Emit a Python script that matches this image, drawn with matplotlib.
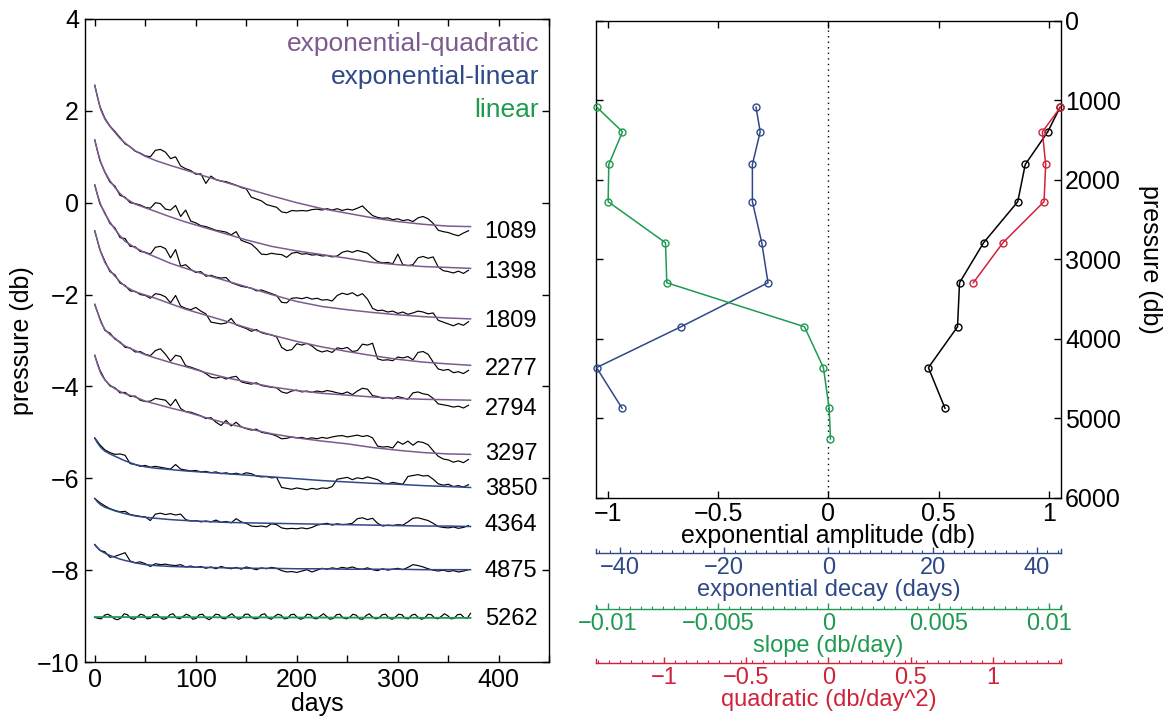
import numpy as np
import matplotlib.pyplot as plt
from matplotlib.ticker import MultipleLocator

plt.rcParams['font.family'] = ['Liberation Sans', 'DejaVu Sans']

# ---------------- left panel data ----------------
depth_labels = ['1089', '1398', '1809', '2277', '2794', '3297', '3850', '4364', '4875', '5262']
label_y = [-0.59, -1.45, -2.52, -3.57, -4.43, -5.42, -6.18, -6.97, -7.96, -9.02]

# black records, one value every 5 days from day 0
rec_1089 = [2.55, 2.10, 1.84, 1.67, 1.55, 1.42, 1.28, 1.22, 1.12, 1.08,
            1.02, 1.00, 1.14, 1.16, 1.10, 0.96, 1.00, 0.80, 0.74, 0.70,
            0.62, 0.63, 0.42, 0.58, 0.50, 0.47, 0.46, 0.42, 0.38, 0.33,
            0.30, 0.12, 0.08, 0.04, -0.04, -0.07, -0.10, -0.20, -0.22, -0.17,
            -0.18, -0.17, -0.18, -0.15, -0.14, -0.16, -0.13, -0.16, -0.13, -0.17,
            -0.14, -0.16, -0.12, -0.07, -0.18, -0.28, -0.32, -0.34, -0.33, -0.37,
            -0.35, -0.39, -0.37, -0.41, -0.33, -0.30, -0.35, -0.45, -0.60, -0.63,
            -0.65, -0.69, -0.72, -0.66, -0.61]
rec_1398 = [1.36, 0.92, 0.66, 0.45, 0.36, 0.16, 0.12, 0.00, -0.02, -0.05,
            -0.10, -0.12, 0.00, -0.02, -0.14, -0.16, -0.06, -0.30, -0.16, -0.40,
            -0.44, -0.50, -0.52, -0.56, -0.60, -0.62, -0.64, -0.70, -0.63, -0.82,
            -0.86, -0.90, -1.00, -1.12, -1.13, -1.10, -1.12, -1.13, -1.19, -1.10,
            -1.08, -1.12, -1.11, -1.14, -1.13, -1.16, -1.15, -1.18, -1.16, -1.08,
            -1.05, -1.08, -1.04, -1.07, -1.10, -1.20, -1.28, -1.31, -1.30, -1.33,
            -1.12, -1.35, -1.37, -1.35, -1.20, -1.17, -1.21, -1.18, -1.40, -1.48,
            -1.50, -1.53, -1.49, -1.54, -1.47]
rec_1809 = [0.38, -0.02, -0.22, -0.45, -0.55, -0.76, -0.78, -0.95, -0.96, -1.06,
            -1.08, -1.12, -0.97, -0.95, -1.00, -1.20, -1.02, -1.38, -1.35, -1.45,
            -1.52, -1.50, -1.60, -1.58, -1.62, -1.64, -1.63, -1.74, -1.78, -1.82,
            -1.84, -1.86, -1.92, -1.90, -1.94, -1.98, -2.02, -2.17, -2.18, -2.08,
            -2.07, -2.09, -2.06, -2.10, -2.08, -2.12, -2.11, -2.14, -2.02, -1.97,
            -2.00, -1.96, -2.03, -1.98, -2.10, -2.30, -2.35, -2.34, -2.38, -2.36,
            -2.41, -2.38, -2.43, -2.40, -2.36, -2.38, -2.42, -2.40, -2.56, -2.60,
            -2.64, -2.68, -2.63, -2.67, -2.59]
rec_2277 = [-0.62, -1.02, -1.27, -1.50, -1.57, -1.75, -1.80, -1.92, -1.93, -2.00,
            -2.02, -2.08, -1.98, -2.00, -2.05, -2.18, -2.02, -2.25, -2.30, -2.33,
            -2.28, -2.36, -2.42, -2.60, -2.62, -2.64, -2.62, -2.52, -2.66, -2.70,
            -2.74, -2.80, -2.76, -2.83, -2.86, -2.88, -2.92, -3.15, -3.22, -3.20,
            -3.07, -3.10, -3.06, -3.12, -3.21, -3.25, -3.22, -3.26, -3.16, -3.18,
            -3.15, -3.24, -3.22, -3.08, -3.10, -3.06, -3.40, -3.43, -3.42, -3.44,
            -3.36, -3.38, -3.35, -3.42, -3.26, -3.24, -3.30, -3.47, -3.62, -3.65,
            -3.63, -3.70, -3.68, -3.72, -3.65]
rec_2794 = [-2.22, -2.52, -2.78, -2.84, -2.97, -3.03, -3.15, -3.16, -3.25, -3.24,
            -3.30, -3.33, -3.22, -3.18, -3.30, -3.45, -3.32, -3.35, -3.55, -3.58,
            -3.62, -3.66, -3.72, -3.80, -3.82, -3.79, -3.84, -3.80, -3.78, -3.90,
            -3.93, -3.95, -3.92, -3.98, -4.00, -4.02, -4.03, -4.12, -4.15, -4.10,
            -4.08, -4.12, -4.10, -4.13, -4.10, -4.12, -4.09, -4.11, -4.14, -4.16,
            -4.12, -4.18, -4.10, -4.04, -4.06, -4.20, -4.22, -4.26, -4.24, -4.27,
            -4.22, -4.25, -4.28, -4.14, -4.12, -4.16, -4.18, -4.26, -4.38, -4.40,
            -4.42, -4.45, -4.43, -4.47, -4.41]
rec_3297 = [-3.33, -3.64, -3.85, -3.99, -4.03, -4.14, -4.13, -4.22, -4.21, -4.30,
            -4.33, -4.32, -4.26, -4.28, -4.30, -4.42, -4.28, -4.48, -4.55, -4.56,
            -4.60, -4.64, -4.70, -4.68, -4.78, -4.85, -4.74, -4.86, -4.78, -4.88,
            -4.92, -4.95, -4.93, -5.00, -5.02, -5.04, -5.08, -5.14, -5.13, -5.10,
            -5.12, -5.11, -5.14, -5.12, -5.14, -5.11, -5.13, -5.10, -5.08, -5.07,
            -5.10, -5.08, -5.06, -5.09, -5.07, -5.12, -5.30, -5.32, -5.31, -5.34,
            -5.20, -5.26, -5.19, -5.28, -5.20, -5.22, -5.27, -5.40, -5.52, -5.58,
            -5.60, -5.65, -5.62, -5.66, -5.59]
rec_3850 = [-5.12, -5.27, -5.38, -5.44, -5.48, -5.47, -5.50, -5.68, -5.70, -5.74,
            -5.72, -5.76, -5.74, -5.76, -5.78, -5.80, -5.70, -5.80, -5.82, -5.84,
            -5.83, -5.86, -5.85, -5.88, -5.86, -5.90, -5.88, -5.91, -5.89, -5.92,
            -5.88, -5.90, -5.95, -5.97, -5.96, -5.99, -5.98, -6.20, -6.22, -6.24,
            -6.21, -6.23, -6.25, -6.22, -6.24, -6.21, -6.22, -6.18, -6.02, -6.00,
            -5.98, -6.03, -5.99, -6.01, -5.97, -6.00, -6.03, -6.10, -6.12, -6.09,
            -6.11, -6.13, -5.96, -5.94, -5.92, -5.95, -5.94, -6.02, -6.12, -6.15,
            -6.13, -6.18, -6.16, -6.19, -6.14]
rec_4364 = [-6.44, -6.53, -6.60, -6.66, -6.70, -6.73, -6.72, -6.79, -6.81, -6.83,
            -6.84, -6.92, -6.78, -6.76, -6.79, -6.77, -6.80, -6.78, -6.90, -6.93,
            -6.92, -6.95, -6.93, -6.95, -6.91, -6.96, -6.94, -6.97, -6.88, -6.95,
            -6.98, -7.04, -7.05, -7.04, -7.06, -6.99, -7.01, -7.08, -7.10, -7.09,
            -7.10, -7.08, -7.10, -7.07, -7.02, -7.00, -6.98, -7.02, -6.99, -7.01,
            -7.00, -6.98, -6.88, -6.86, -6.90, -6.87, -6.98, -7.04, -7.02, -7.03,
            -7.01, -7.02, -6.95, -6.87, -6.86, -6.89, -6.92, -6.98, -7.05, -7.07,
            -7.08, -7.06, -7.09, -7.07, -7.03]
rec_4875 = [-7.44, -7.57, -7.60, -7.72, -7.70, -7.66, -7.62, -7.80, -7.84, -7.82,
            -7.86, -7.92, -7.86, -7.88, -7.87, -7.89, -7.90, -7.88, -7.93, -7.91,
            -7.94, -7.92, -7.96, -7.93, -7.97, -7.92, -7.95, -7.97, -7.94, -7.98,
            -7.93, -7.96, -7.99, -7.95, -7.97, -7.94, -7.96, -8.01, -8.04, -8.03,
            -8.05, -8.02, -7.99, -8.04, -8.00, -7.96, -7.98, -7.95, -7.97, -7.94,
            -7.96, -7.93, -7.97, -7.98, -7.95, -7.99, -8.01, -7.97, -8.00, -7.98,
            -7.96, -7.99, -7.94, -7.88, -7.90, -7.93, -7.97, -8.00, -8.02, -8.00,
            -8.03, -8.01, -8.04, -8.02, -7.99]
# deepest record is sampled finer (fortnightly steps)
rec_5262 = [-9.03, -9.05, -9.06, -8.98, -8.96, -9.00, -9.06, -9.08, -9.04, -8.95,
            -8.97, -9.05, -9.07, -9.02, -8.96, -8.98, -9.06, -9.05, -8.97, -8.96,
            -9.03, -9.07, -9.05, -8.97, -8.95, -9.04, -9.06, -9.01, -8.96, -8.99,
            -9.07, -9.05, -8.97, -8.96, -9.04, -9.08, -9.03, -8.96, -8.97, -9.05,
            -9.06, -8.99, -8.95, -9.02, -9.07, -9.04, -8.96, -8.96, -9.03, -9.06,
            -9.05, -8.97, -8.95, -9.04, -9.07, -9.01, -8.96, -8.98, -9.06, -9.05,
            -8.97, -8.96, -9.03, -9.07, -9.04, -8.96, -8.97, -9.05, -9.06, -9.00,
            -8.95, -9.01, -9.07, -9.05, -8.97, -8.96, -9.04, -9.06, -9.03, -8.96,
            -8.98, -9.06, -9.07, -8.99, -8.95, -9.02, -9.06, -9.04, -8.97, -8.96,
            -9.04, -9.07, -9.02, -8.96, -8.97, -9.05, -9.06, -8.98, -8.96, -9.03,
            -9.07, -9.04, -8.96, -8.97, -9.04, -9.06, -9.01, -8.95, -8.99, -9.06,
            -9.05, -8.97, -8.96, -9.03, -9.05, -8.94]

# fitted curves
fit_days = [0, 3, 6, 10, 15, 20, 25, 30, 40, 50, 60, 75, 90, 110, 130, 150,
            175, 200, 225, 250, 275, 300, 325, 350, 372]
fit_1089 = [2.56, 2.27, 2.02, 1.82, 1.66, 1.53, 1.40, 1.30, 1.13, 1.01, 0.92, 0.81, 0.71,
            0.57, 0.44, 0.31, 0.15, 0.00, -0.13, -0.23, -0.33, -0.41, -0.47, -0.51, -0.52]
fit_1398 = [1.37, 1.10, 0.88, 0.67, 0.48, 0.33, 0.20, 0.10, -0.03, -0.11, -0.19, -0.31, -0.42,
            -0.55, -0.68, -0.81, -0.95, -1.05, -1.13, -1.21, -1.30, -1.35, -1.39, -1.41, -1.43]
fit_1809 = [0.39, 0.15, -0.05, -0.24, -0.42, -0.58, -0.72, -0.84, -0.98, -1.09, -1.18, -1.32, -1.43,
            -1.57, -1.70, -1.83, -2.00, -2.15, -2.26, -2.33, -2.39, -2.44, -2.48, -2.51, -2.53]
fit_2277 = [-0.61, -0.85, -1.08, -1.30, -1.47, -1.60, -1.72, -1.82, -1.94, -2.01, -2.08, -2.20, -2.32,
            -2.45, -2.58, -2.72, -2.88, -3.02, -3.14, -3.24, -3.33, -3.41, -3.47, -3.51, -3.54]
fit_2794 = [-2.21, -2.40, -2.60, -2.76, -2.87, -2.95, -3.05, -3.12, -3.22, -3.31, -3.38, -3.48, -3.57,
            -3.70, -3.81, -3.90, -4.01, -4.09, -4.15, -4.19, -4.23, -4.26, -4.28, -4.29, -4.30]
fit_3297 = [-3.32, -3.54, -3.72, -3.86, -3.97, -4.05, -4.11, -4.16, -4.23, -4.32, -4.38, -4.47, -4.55,
            -4.68, -4.80, -4.91, -5.03, -5.12, -5.19, -5.25, -5.33, -5.39, -5.44, -5.47, -5.48]
fit_3850 = [-5.13, -5.24, -5.33, -5.41, -5.47, -5.52, -5.57, -5.62, -5.70, -5.75, -5.78, -5.81, -5.84,
            -5.87, -5.90, -5.93, -5.97, -6.01, -6.05, -6.08, -6.11, -6.13, -6.16, -6.18, -6.20]
fit_4364 = [-6.44, -6.52, -6.58, -6.63, -6.67, -6.71, -6.74, -6.77, -6.82, -6.85, -6.87, -6.90, -6.92,
            -6.94, -6.96, -6.97, -6.98, -6.99, -7.00, -7.01, -7.02, -7.03, -7.04, -7.04, -7.05]
fit_4875 = [-7.45, -7.52, -7.58, -7.63, -7.68, -7.72, -7.76, -7.79, -7.84, -7.88, -7.90, -7.92, -7.93,
            -7.94, -7.95, -7.96, -7.96, -7.97, -7.97, -7.98, -7.98, -7.98, -7.99, -7.99, -7.99]
lin_days = [0, 372]
fit_5262 = [-9.02, -9.04]

# ---------------- right panel data ----------------
pressure = [1089, 1398, 1809, 2277, 2794, 3297, 3850, 4364, 4875, 5262]
amplitude = [1.05, 0.994, 0.892, 0.858, 0.703, 0.594, 0.585, 0.453, 0.528]
decay = [-13.9, -13.1, -14.6, -14.6, -12.8, -11.6, -28.3, -44.5, -39.6]
slope = [-0.0105, -0.00934, -0.00996, -0.00999, -0.00739, -0.00733, -0.00109, -0.00023, 0.00003, 0.00009]
quadratic = [1.41, 1.30, 1.32, 1.31, 1.06, 0.88]

c_purple = '#7d5b8f'
c_blue = '#2f4889'
c_green = '#1f9a50'
c_red = '#cf2339'
fs = 18
fs_bar = 17

fig = plt.figure(figsize=(11.76, 7.22), dpi=100)

# ---- left: pressure records ----
axL = fig.add_axes([0.0720, 0.0831, 0.3951, 0.8906])
records = [rec_1089, rec_1398, rec_1809, rec_2277, rec_2794, rec_3297, rec_3850, rec_4364, rec_4875]
fits = [fit_1089, fit_1398, fit_1809, fit_2277, fit_2794, fit_3297, fit_3850, fit_4364, fit_4875]
fit_colors = [c_purple] * 6 + [c_blue] * 3
for rec, fit, col in zip(records, fits, fit_colors):
    axL.plot(np.linspace(0, 370, len(rec)), rec, color='black', lw=0.85)
    axL.plot(fit_days, fit, color=col, lw=1.1)
axL.plot(np.linspace(0, 372, len(rec_5262)), rec_5262, color='black', lw=0.85)
axL.plot(lin_days, fit_5262, color=c_green, lw=1.3)

for lab, y in zip(depth_labels, label_y):
    axL.text(386, y, lab, fontsize=17, va='center_baseline', ha='left')
axL.text(440, 3.46, 'exponential-quadratic', color=c_purple, fontsize=19, ha='right', va='center')
axL.text(440, 2.74, 'exponential-linear', color=c_blue, fontsize=19, ha='right', va='center')
axL.text(440, 2.02, 'linear', color=c_green, fontsize=19, ha='right', va='center')

axL.set_xlim(-10, 450)
axL.set_ylim(-10, 4)
axL.set_xticks([0, 100, 200, 300, 400])
axL.xaxis.set_minor_locator(MultipleLocator(50))
axL.set_yticks(range(-10, 5, 2))
axL.tick_params(which='both', direction='in', top=True, right=True, length=5, width=1,
                labelsize=fs, pad=4)
axL.set_xlabel('days', fontsize=fs, labelpad=0)
axL.set_ylabel('pressure (db)', fontsize=fs, labelpad=2)
for s in axL.spines.values():
    s.set_linewidth(1)

# ---- right: fit parameters versus pressure ----
pos_r = [0.5068, 0.3107, 0.3954, 0.6607]
axR = fig.add_axes(pos_r)
axR.set_xlim(-1.054, 1.054)
axR.set_ylim(6000, 0)
axR.axvline(0, color='black', ls=(0, (1, 3)), lw=1)
axR.plot(amplitude, pressure[:len(amplitude)], color='black', marker='o', mfc='none',
         ms=5, mew=1, lw=1.1, clip_on=False)
axR.set_xticks([-1, -0.5, 0, 0.5, 1])
axR.set_xticklabels(['\u22121', '\u22120.5', '0', '0.5', '1'])
axR.set_yticks(range(0, 7000, 1000))
axR.yaxis.tick_right()
axR.tick_params(which='both', direction='in', top=True, left=True, right=True,
                length=5, width=1, labelsize=fs, pad=3)
axR.yaxis.set_label_position('right')
axR.set_ylabel('pressure (db)', fontsize=fs, rotation=-90, va='bottom', labelpad=12)
axR.set_xlabel('exponential amplitude (db)', fontsize=fs, labelpad=-1)
for s in axR.spines.values():
    s.set_linewidth(1)

# overlay axes so each parameter uses its own x scale
scales = [
    (decay, (-44.6, 44.6), c_blue),
    (slope, (-0.01054, 0.01054), c_green),
    (quadratic, (-1.413, 1.413), c_red),
]
for vals, lim, col in scales:
    ov = fig.add_axes(pos_r)
    ov.set_xlim(lim)
    ov.set_ylim(6000, 0)
    ov.axis('off')
    ov.plot(vals, pressure[:len(vals)], color=col, marker='o', mfc='none',
            ms=5, mew=1, lw=1.1, clip_on=False)

# separate scale bars under the right panel
bars = [
    (0.2341, (-44.6, 44.6), c_blue, 'exponential decay (days)',
     [-40, -20, 0, 20, 40], ['\u221240', '\u221220', '0', '20', '40'], 2),
    (0.1565, (-0.01054, 0.01054), c_green, 'slope (db/day)',
     [-0.01, -0.005, 0, 0.005, 0.01], ['\u22120.01', '\u22120.005', '0', '0.005', '0.01'], 0.0005),
    (0.0817, (-1.413, 1.413), c_red, 'quadratic (db/day^2)',
     [-1, -0.5, 0, 0.5, 1], ['\u22121', '\u22120.5', '0', '0.5', '1'], 0.0667),
]
for y, lim, col, lab, ticks, ticklabs, minor in bars:
    a = fig.add_axes([pos_r[0], y, pos_r[2], 0.006])
    a.patch.set_visible(False)
    a.set_xlim(lim)
    a.set_yticks([])
    a.spines['top'].set_visible(False)
    for s in ['bottom', 'left', 'right']:
        a.spines[s].set_color(col)
        a.spines[s].set_linewidth(1)
    a.set_xticks(ticks)
    a.set_xticklabels(ticklabs)
    a.xaxis.set_minor_locator(MultipleLocator(minor))
    a.tick_params(axis='x', which='major', direction='in', length=4, width=1,
                  colors=col, labelsize=fs_bar, pad=3)
    a.tick_params(axis='x', which='minor', direction='in', length=2.5, width=0.8, colors=col)
    a.set_xlabel(lab, color=col, fontsize=fs_bar, labelpad=0)

fig.savefig('out.png', dpi=100)
